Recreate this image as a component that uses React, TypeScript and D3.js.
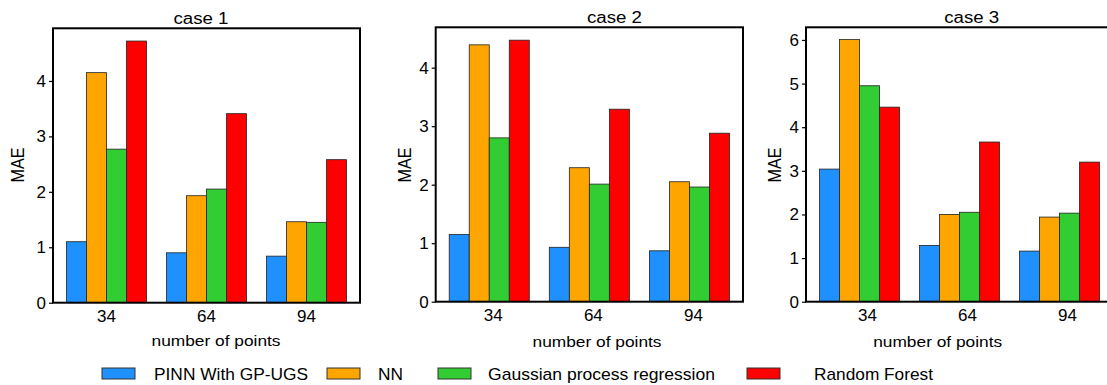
import React, { useEffect, useRef } from 'react';
import * as d3 from 'd3';

const categories = ['34', '64', '94'];
const seriesNames = ['PINN With GP-UGS', 'NN', 'Gaussian process regression', 'Random Forest'];
const seriesColors = ['#1e90ff', '#ffa500', '#32cd32', '#ff0000'];

// case 1
const case1Pinn = [1.10, 0.90, 0.84];
const case1Nn = [4.15, 1.93, 1.46];
const case1Gpr = [2.77, 2.05, 1.45];
const case1Rf = [4.72, 3.41, 2.58];
// case 2
const case2Pinn = [1.15, 0.93, 0.87];
const case2Nn = [4.39, 2.29, 2.05];
const case2Gpr = [2.80, 2.01, 1.96];
const case2Rf = [4.47, 3.29, 2.88];
// case 3
const case3Pinn = [3.04, 1.29, 1.16];
const case3Nn = [6.01, 2.00, 1.94];
const case3Gpr = [4.95, 2.05, 2.03];
const case3Rf = [4.46, 3.66, 3.20];

const case1Ticks = [0, 1, 2, 3, 4];
const case2Ticks = [0, 1, 2, 3, 4];
const case3Ticks = [0, 1, 2, 3, 4, 5, 6];

const FONT = '"Liberation Sans", Arial, sans-serif';

// layout of the three panels (pixels)
const panels = [
    { title: 'case 1', values: [case1Pinn, case1Nn, case1Gpr, case1Rf], ticks: case1Ticks, yMax: 4.95,
      left: 53, right: 360, top: 28.3, bottom: 302.7, titleX: 201, titleY: 24, xLabelX: 216, xLabelY: 345.5, maeX: 24, tickDx: 0 },
    { title: 'case 2', values: [case2Pinn, case2Nn, case2Gpr, case2Rf], ticks: case2Ticks, yMax: 4.69,
      left: 435.7, right: 743, top: 27.3, bottom: 301.7, titleX: 614.5, titleY: 23.3, xLabelX: 597, xLabelY: 346.5, maeX: 411, tickDx: 4 },
    { title: 'case 3', values: [case3Pinn, case3Nn, case3Gpr, case3Rf], ticks: case3Ticks, yMax: 6.29,
      left: 806, right: 1113, top: 27.3, bottom: 301.7, titleX: 971.7, titleY: 22.7, xLabelX: 937.7, xLabelY: 346.5, maeX: 781, tickDx: 8 },
];

const legendSwatchX = [102, 327, 438, 747];
const legendTextX = [154, 378, 488, 814];
const legendTextLen = [154, 25, 227, 119];

const App = () => {
    const ref = useRef<SVGSVGElement>(null);

    useEffect(() => {
        drawChart();
    }, []);

    const drawChart = () => {
        const svg = d3.select(ref.current);
        svg.selectAll('*').remove();

        panels.forEach(p => {
            const g = svg.append('g');
            const x = d3.scaleBand<string>()
                .domain(categories)
                .range([p.left, p.right])
                .paddingInner(0.2)
                .paddingOuter(0.135);
            const xs = d3.scaleBand<number>()
                .domain(d3.range(seriesNames.length))
                .range([0, x.bandwidth()]);
            const y = d3.scaleLinear().domain([0, p.yMax]).range([p.bottom, p.top]);

            // bars
            p.values.forEach((vals, si) => {
                g.selectAll(null)
                    .data(vals)
                    .enter()
                    .append('rect')
                    .attr('x', (_, i) => (x(categories[i]) as number) + (xs(si) as number))
                    .attr('y', d => y(d))
                    .attr('width', xs.bandwidth())
                    .attr('height', d => y(0) - y(d))
                    .attr('fill', seriesColors[si])
                    .attr('stroke', '#222')
                    .attr('stroke-width', 0.8);
            });

            // y axis
            const yAxis = g.append('g')
                .attr('transform', `translate(${p.left},0)`)
                .call(d3.axisLeft(y).tickValues(p.ticks).tickSize(4).tickPadding(3).tickFormat(d3.format('d')));
            yAxis.select('.domain').remove();
            yAxis.selectAll('line').attr('stroke', '#000').attr('stroke-width', 1.2);
            yAxis.selectAll('text').attr('fill', '#000').style('font-size', '17px').style('font-family', FONT);

            // x axis labels
            const xAxis = g.append('g')
                .attr('transform', `translate(${p.tickDx},${p.bottom})`)
                .call(d3.axisBottom(x).tickSize(0).tickPadding(7));
            xAxis.select('.domain').remove();
            xAxis.selectAll('text').attr('fill', '#000').style('font-size', '17px').style('font-family', FONT);

            // frame
            g.append('rect')
                .attr('x', p.left)
                .attr('y', p.top)
                .attr('width', p.right - p.left)
                .attr('height', p.bottom - p.top)
                .attr('fill', 'none')
                .attr('stroke', '#000')
                .attr('stroke-width', 2);

            g.append('text')
                .text(p.title)
                .attr('x', p.titleX)
                .attr('y', p.titleY)
                .attr('text-anchor', 'middle')
                .attr('textLength', 55)
                .attr('lengthAdjust', 'spacingAndGlyphs')
                .style('font-size', '16px')
                .style('font-family', FONT);

            g.append('text')
                .text('number of points')
                .attr('x', p.xLabelX)
                .attr('y', p.xLabelY)
                .attr('text-anchor', 'middle')
                .attr('textLength', 129)
                .attr('lengthAdjust', 'spacingAndGlyphs')
                .style('font-size', '15px')
                .style('font-family', FONT);

            g.append('text')
                .text('MAE')
                .attr('transform', `translate(${p.maeX},165) rotate(-90)`)
                .attr('text-anchor', 'middle')
                .attr('textLength', 35)
                .attr('lengthAdjust', 'spacingAndGlyphs')
                .style('font-size', '18px')
                .style('font-family', FONT);
        });

        // legend
        const legend = svg.append('g');
        seriesNames.forEach((name, i) => {
            legend.append('rect')
                .attr('x', legendSwatchX[i])
                .attr('y', 368)
                .attr('width', 33)
                .attr('height', 11)
                .attr('fill', seriesColors[i])
                .attr('stroke', '#333')
                .attr('stroke-width', 1);
            legend.append('text')
                .text(name)
                .attr('x', legendTextX[i])
                .attr('y', 380)
                .attr('textLength', legendTextLen[i])
                .attr('lengthAdjust', 'spacingAndGlyphs')
                .style('font-size', '17px')
                .style('font-family', FONT);
        });
    };

    return (
        <svg ref={ref} width={1107} height={385}
            style={{ position: 'absolute', left: 0, top: 0, background: '#fff' }}></svg>
    );
};

export default App;
